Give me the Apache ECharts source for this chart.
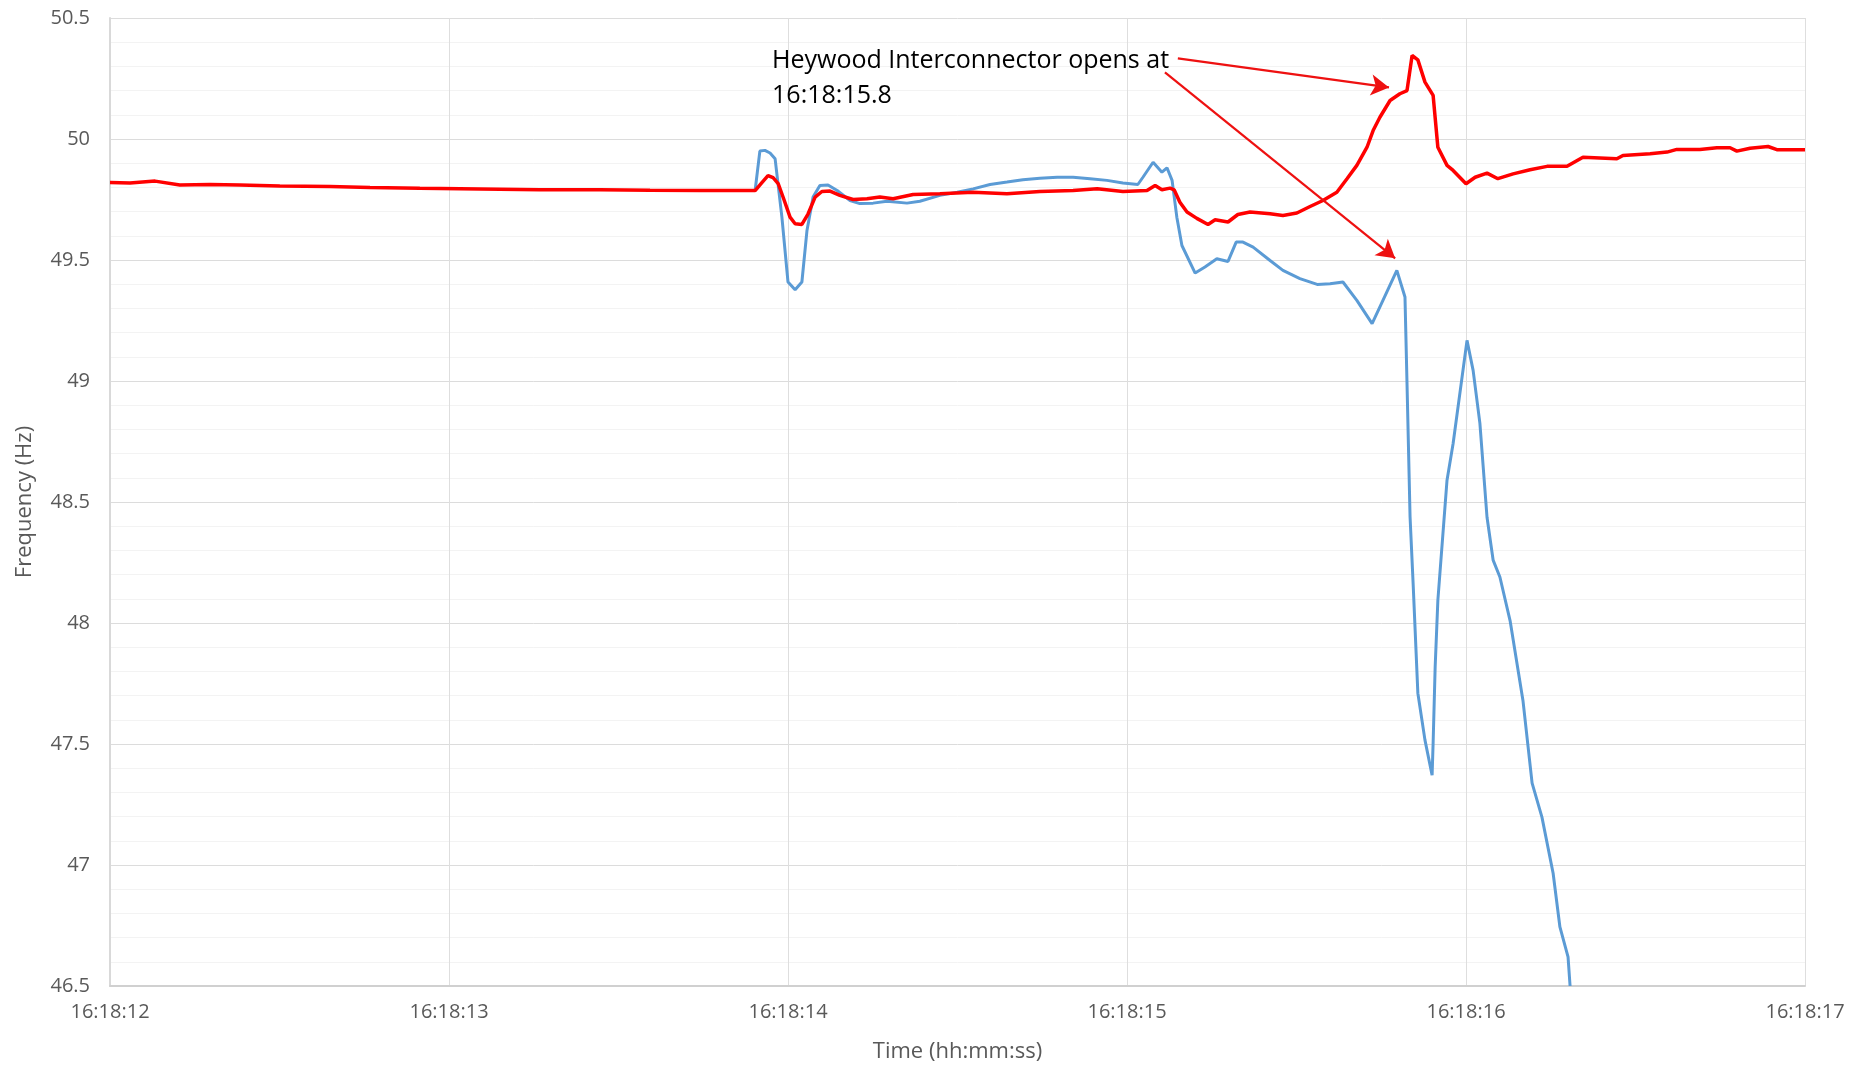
<!DOCTYPE html>
<html>
<head>
<meta charset="utf-8">
<script src="https://cdn.jsdelivr.net/npm/echarts@6/dist/echarts.min.js"></script>
<style>
html,body{margin:0;padding:0;background:#fff;}
#chart{width:1852px;height:1069px;}
</style>
</head>
<body>
<div id="chart"></div>
<script>
// Time in seconds after 16:18:12
const xTickBase = '16:18:';
const xStartSecond = 12;

const redTime = [0,0.059,0.133,0.206,0.295,0.383,0.501,0.649,0.767,0.914,1.091,1.268,1.445,1.593,1.74,1.903,
  1.923,1.941,1.956,1.971,1.988,2.006,2.021,2.041,2.059,2.08,2.1,2.124,2.153,2.192,2.233,2.271,2.31,2.369,2.448,
  2.546,2.646,2.743,2.841,2.912,2.988,3.059,3.083,3.103,3.127,3.139,3.156,3.177,3.206,3.239,3.26,3.298,3.327,
  3.363,3.422,3.46,3.501,3.54,3.578,3.619,3.649,3.678,3.708,3.726,3.746,3.776,3.805,3.826,3.841,3.858,3.879,
  3.903,3.917,3.944,3.962,4.0,4.027,4.062,4.094,4.139,4.189,4.239,4.298,4.345,4.445,4.463,4.543,4.593,4.622,
  4.69,4.74,4.779,4.799,4.838,4.891,4.917,5.0];
const redFreq = [49.82,49.818,49.826,49.81,49.812,49.81,49.806,49.804,49.8,49.796,49.793,49.79,49.79,49.788,49.787,49.787,
  49.82,49.849,49.84,49.816,49.75,49.677,49.65,49.647,49.69,49.76,49.783,49.785,49.767,49.75,49.753,49.76,49.753,49.771,49.774,
  49.78,49.774,49.783,49.787,49.794,49.783,49.787,49.808,49.79,49.797,49.79,49.739,49.698,49.672,49.647,49.666,49.657,49.688,
  49.698,49.691,49.684,49.694,49.721,49.746,49.78,49.836,49.891,49.966,50.035,50.09,50.159,50.187,50.2,50.345,50.327,50.235,
  50.18,49.966,49.891,49.87,49.815,49.842,49.859,49.836,49.856,49.873,49.887,49.887,49.925,49.918,49.932,49.939,49.946,49.957,
  49.957,49.964,49.964,49.95,49.962,49.969,49.956,49.956];

const blueTime = [1.903,1.917,1.932,1.947,1.962,1.982,2.0,2.021,2.041,2.056,2.074,2.094,2.118,2.145,2.183,2.212,2.251,2.292,
  2.351,2.389,2.448,2.499,2.546,2.596,2.646,2.693,2.743,2.794,2.841,2.891,2.941,2.988,3.032,3.047,3.077,3.103,3.118,3.133,
  3.147,3.162,3.201,3.23,3.265,3.298,3.322,3.342,3.372,3.422,3.46,3.51,3.561,3.599,3.637,3.678,3.723,3.755,3.796,3.82,3.826,
  3.835,3.844,3.858,3.879,3.9,3.903,3.909,3.917,3.944,3.962,4.003,4.021,4.041,4.062,4.08,4.1,4.13,4.168,4.195,4.224,4.257,
  4.277,4.301,4.307];
const blueFreq = [49.787,49.95,49.953,49.942,49.918,49.677,49.409,49.377,49.409,49.622,49.76,49.808,49.81,49.787,49.746,49.733,49.735,49.743,
  49.735,49.743,49.767,49.78,49.794,49.812,49.822,49.832,49.838,49.842,49.842,49.836,49.829,49.818,49.812,49.842,49.904,49.863,49.881,49.829,
  49.677,49.56,49.446,49.471,49.505,49.494,49.574,49.574,49.553,49.498,49.457,49.423,49.399,49.402,49.409,49.333,49.237,49.333,49.457,49.347,48.99,
  48.438,48.164,47.71,47.516,47.371,47.503,47.817,48.094,48.59,48.742,49.168,49.044,48.825,48.437,48.26,48.19,48.01,47.68,47.338,47.198,46.966,
  46.744,46.62,46.5];

const annotationText = 'Heywood Interconnector opens at\n16:18:15.8';
const annotationAnchor = [1.953, 50.25];
const arrow1 = [[3.15, 50.333], [3.773, 50.213]];
const arrow2 = [[3.112, 50.275], [3.791, 49.507]];

const zip = (a, b) => a.map((v, i) => [v, b[i]]);

const chart = echarts.init(document.getElementById('chart'), null, {renderer: 'canvas'});
const font = '"Open Sans", "Liberation Sans", sans-serif';
chart.setOption({
  animation: false,
  backgroundColor: '#ffffff',
  grid: {left: 110, right: 47, top: 18, bottom: 83, containLabel: false},
  xAxis: {
    type: 'value', min: 0, max: 5, interval: 1,
    name: 'Time (hh:mm:ss)', nameLocation: 'middle', nameGap: 55,
    nameTextStyle: {color: '#595959', fontSize: 22, fontFamily: font},
    axisLine: {show: true, lineStyle: {color: '#d0d0d0', width: 2}},
    axisTick: {show: false},
    axisLabel: {color: '#595959', fontSize: 20, fontFamily: font, margin: 16,
      formatter: v => xTickBase + (xStartSecond + v)},
    splitLine: {show: true, lineStyle: {color: '#dedede', width: 1}}
  },
  yAxis: {
    type: 'value', min: 46.5, max: 50.5, interval: 0.5,
    name: 'Frequency (Hz)', nameLocation: 'middle', nameGap: 74,
    nameTextStyle: {color: '#595959', fontSize: 22, fontFamily: font},
    axisLine: {show: true, lineStyle: {color: '#d9d9d9', width: 2}},
    axisTick: {show: false},
    axisLabel: {color: '#595959', fontSize: 20, fontFamily: font, margin: 20},
    splitLine: {show: true, lineStyle: {color: '#dcdcdc', width: 1}},
    minorTick: {show: false, splitNumber: 5},
    minorSplitLine: {show: true, lineStyle: {color: '#f3f3f3', width: 1}}
  },
  series: [
    {
      type: 'line', name: 'blue', data: zip(blueTime, blueFreq),
      showSymbol: false, symbol: 'none',
      lineStyle: {color: '#5b9bd5', width: 3}, z: 2
    },
    {
      type: 'line', name: 'red', data: zip(redTime, redFreq),
      showSymbol: false, symbol: 'none',
      lineStyle: {color: '#ff0000', width: 3.5}, z: 3,
      markLine: {
        silent: true, symbol: ['none', 'arrow'], symbolSize: [16, 18],
        label: {show: false},
        lineStyle: {color: '#ee1111', width: 2.2, type: 'solid'},
        data: [
          [{coord: arrow1[0]}, {coord: arrow1[1]}],
          [{coord: arrow2[0]}, {coord: arrow2[1]}]
        ]
      },
      markPoint: {
        silent: true,
        data: [{coord: annotationAnchor, symbol: 'circle', symbolSize: 0,
          label: {show: true, position: 'right', distance: 0, formatter: annotationText,
            color: '#000000', fontSize: 25, lineHeight: 35, fontFamily: font, align: 'left'}}]
      }
    }
  ]
});
</script>
</body>
</html>
